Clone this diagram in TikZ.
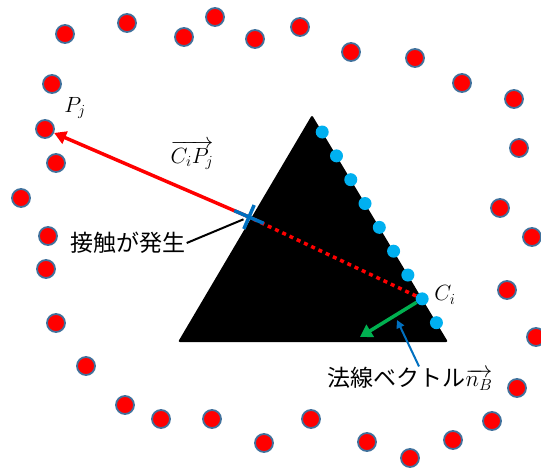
\RequirePackage{fix-cm}
\documentclass[tikz,border=0pt]{standalone}
\usepackage{amsmath}
\usepackage{fontspec}
\newfontfamily\jpfont{Noto Sans CJK JP}
\usetikzlibrary{arrows.meta,calc}
\definecolor{DotEdge}{HTML}{41719C}
\definecolor{TouchCyan}{HTML}{00B0F0}
\definecolor{NormGreen}{HTML}{00B050}
\definecolor{NormBlue}{HTML}{0070C0}

\begin{document}
\begin{tikzpicture}[x=1pt, y=-1pt,
    reddot/.style={circle, fill=red, draw=DotEdge, line width=1.8pt, minimum size=18pt, inner sep=0pt},
    cyandot/.style={circle, fill=TouchCyan, minimum size=13pt, inner sep=0pt},
    mathlabel/.style={font=\fontsize{22}{26}\selectfont, inner sep=1pt},
    jplabel/.style={font=\fontsize{23}{27}\selectfont\jpfont, inner sep=1pt},
    redvec/.style={-{Triangle[length=12pt, width=13pt]}, red, line width=3.5pt},
    normalvec/.style={-{Triangle[length=12pt, width=14pt]}, NormGreen, line width=3.5pt},
    pointer/.style={-{Triangle[length=8pt, width=8pt]}, NormBlue, line width=2pt},
]
    \useasboundingbox (0,0) rectangle (541,469);

    % body
    \coordinate (top) at (312,115);
    \coordinate (br) at (448,342);
    \coordinate (bl) at (178,342);
    \fill[black, rounded corners=2pt] (top) -- (br) -- (bl) -- cycle;

    % surrounding particles
    \foreach \px/\py [count=\n] in {65/34, 127/23, 184/37, 215/17, 255/39, 300/27, 351/52, 415/58, 462/83, 514/99,
        519/148, 500/208, 532/237, 507/290, 536/337, 517/388, 492/421, 453/440, 410/458,
        367/442, 311/419, 264/443, 212/419, 161/419, 125/405, 86/366, 56/323,
        46/269, 48/236, 21/198, 56/163, 52/84}
        \node[reddot] (p\n) at (\px,\py) {};
    \node[reddot] (Pj) at (45,129) {};

    % boundary particles
    \foreach \k in {0,...,8}
        \node[cyandot] (c\k) at ($(top)!{0.075+0.105*\k}!(br)$) {};

    \coordinate (contact) at (249,217);
    \coordinate (nbend) at (360,337);
    \coordinate (nbtip) at (397,320);

    \draw[red, line width=3.5pt, dash pattern=on 4pt off 4pt] (c7) -- (contact);
    \draw[redvec] (contact) -- (Pj);
    \draw[normalvec] (c7) -- (nbend);

    % contact mark
    \draw[NormBlue, line width=3.5pt] ($(contact)!16pt!(Pj)$) -- ($(contact)!-16pt!(Pj)$);
    \draw[NormBlue, line width=3.5pt] ($(contact)!13pt!90:(Pj)$) -- ($(contact)!13pt!-90:(Pj)$);

    \node[mathlabel] (pjlabel) at (75,108) {$P_j$};
    \node[mathlabel] (veclabel) at (192,155) {$\overrightarrow{C_iP_j}$};
    \node[mathlabel] (cilabel) at (445,295) {$C_i$};
    \node[jplabel] (contactlabel) at (128,243) {接触が発生};
    \node[jplabel] (nlabel) at (410,379) {法線ベクトル$\overrightarrow{n_B}$};

    \draw[black, line width=2pt, shorten >=6pt] (contactlabel.east) -- (contact);
    \draw[pointer] ([xshift=9pt]nlabel.north) -- (nbtip);
\end{tikzpicture}
\end{document}
